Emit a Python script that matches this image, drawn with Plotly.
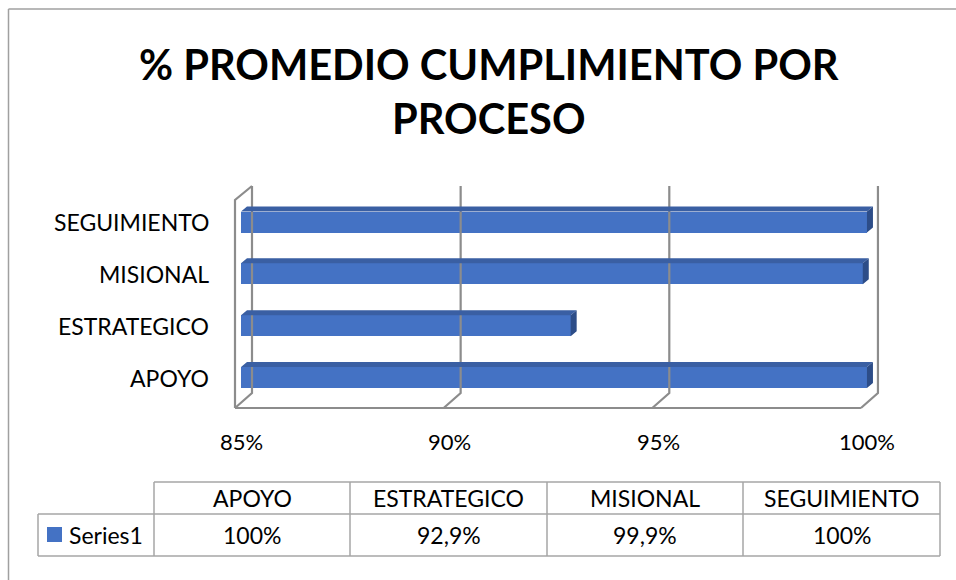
import plotly.graph_objects as go

# ---------------- data ----------------
categories = ["APOYO", "ESTRATEGICO", "MISIONAL", "SEGUIMIENTO"]
values = [100.0, 92.9, 99.9, 100.0]
series_name = "Series1"
x_ticks = [85, 90, 95, 100]
x_tick_labels = ["85%", "90%", "95%", "100%"]
title_text = "% PROMEDIO CUMPLIMIENTO POR<br>PROCESO"

# ---------------- layout constants ----------------
W, H = 956, 580
FONT = "Lato"
X0, PXU = 241.0, 41.73      # px of axis minimum, px per percent
Y0, PYU = 377.5, 51.83      # px of first category, px per category step
XMIN = x_ticks[0]
BAR_W = 21 / PYU
DDX, DDY = 6 / PXU, 5 / PYU          # depth of bars
BACK_DX = 11 / PXU                   # back wall offset from bar start
FRONT_DX = -6 / PXU                  # front floor offset
Y_BACK_TOP = (Y0 - 186) / PYU
Y_BACK_BOT = (Y0 - 393) / PYU
Y_FRONT_BOT = (Y0 - 408) / PYU
Y_FRONT_TOP = (Y0 - 200) / PYU
GRID = "#8c8c8c"
BLUE = "#4472C4"
TOP_C = "#3a5fa3"
SIDE_C = "#2d4d88"
TABLE_LINE = "#a6a6a6"

xr = [XMIN - X0 / PXU, XMIN + (W - X0) / PXU]
yr = [(Y0 - H) / PYU, Y0 / PYU]

def px(x):
    return x / W

def py(y):
    return 1 - y / H

idx = list(range(len(categories)))

fig = go.Figure()

# grid / walls
gx, gy = [], []
for t in x_ticks:
    gx += [t + BACK_DX, t + BACK_DX, t + FRONT_DX, None]
    gy += [Y_BACK_TOP, Y_BACK_BOT, Y_FRONT_BOT, None]
gx += [XMIN + FRONT_DX, XMIN + FRONT_DX, XMIN + BACK_DX, None]
gy += [Y_FRONT_BOT, Y_FRONT_TOP, Y_BACK_TOP, None]
gx += [XMIN + FRONT_DX, x_ticks[-1] + FRONT_DX]
gy += [Y_FRONT_BOT, Y_FRONT_BOT]
fig.add_trace(go.Scatter(x=gx, y=gy, mode="lines", line=dict(color=GRID, width=2.2),
                         hoverinfo="skip", showlegend=False))

# front faces of bars
fig.add_trace(go.Bar(y=idx, x=[v - XMIN for v in values], base=XMIN, orientation="h",
                     width=BAR_W, marker=dict(color=BLUE, line=dict(width=0)),
                     name=series_name, showlegend=False))

# top and side faces
tx, ty, sx, sy = [], [], [], []
for i, v in zip(idx, values):
    top = i + BAR_W / 2
    bot = i - BAR_W / 2
    tx += [XMIN, v, v + DDX, XMIN + DDX, XMIN, None]
    ty += [top, top, top + DDY, top + DDY, top, None]
    sx += [v, v, v + DDX, v + DDX, v, None]
    sy += [bot, top, top + DDY, bot + DDY, bot, None]
fig.add_trace(go.Scatter(x=tx, y=ty, mode="lines", fill="toself", fillcolor=TOP_C,
                         line=dict(width=0, color=TOP_C), hoverinfo="skip", showlegend=False))
fig.add_trace(go.Scatter(x=sx, y=sy, mode="lines", fill="toself", fillcolor=SIDE_C,
                         line=dict(width=0, color=SIDE_C), hoverinfo="skip", showlegend=False))

ann = []
# title
ann.append(dict(text="<b>" + title_text + "</b>", x=px(489), y=py(91), xref="paper", yref="paper",
                showarrow=False, xanchor="center", yanchor="middle",
                font=dict(family=FONT, size=41.6, color="#000000")))
# category labels
for i, c in zip(idx, categories):
    ann.append(dict(text=c, x=px(211), y=i, xref="paper", yref="y", showarrow=False,
                    xanchor="right", yanchor="middle", font=dict(family=FONT, size=23, color="#000")))
# x tick labels
for t, lab in zip(x_ticks, x_tick_labels):
    ann.append(dict(text=lab, x=t, y=py(441), xref="x", yref="paper", showarrow=False,
                    xanchor="center", yanchor="middle", font=dict(family=FONT, size=22, color="#000")))

# data table
col_edges = [38, 154, 350, 547, 743, 940]
row_top, row_mid, row_bot = 482, 514, 556
shapes = []
def line(x0, y0, x1, y1, color=TABLE_LINE, width=1.5):
    shapes.append(dict(type="line", xref="paper", yref="paper", x0=px(x0), y0=py(y0),
                       x1=px(x1), y1=py(y1), line=dict(color=color, width=width)))
line(col_edges[1], row_top, col_edges[-1], row_top)
line(col_edges[0], row_mid, col_edges[-1], row_mid)
line(col_edges[0], row_bot, col_edges[-1], row_bot)
line(col_edges[0], row_mid, col_edges[0], row_bot)
for e in col_edges[1:]:
    line(e, row_top, e, row_bot)

def fmt(v):
    return (f"{v:.0f}%" if abs(v - round(v)) < 1e-9 else f"{v:.1f}%".replace(".", ","))

for k, (c, v) in enumerate(zip(categories, values)):
    cx = (col_edges[k + 1] + col_edges[k + 2]) / 2
    ann.append(dict(text=c, x=px(cx), y=py((row_top + row_mid) / 2), xref="paper", yref="paper",
                    showarrow=False, xanchor="center", yanchor="middle",
                    font=dict(family=FONT, size=23, color="#000")))
    ann.append(dict(text=fmt(v), x=px(cx), y=py((row_mid + row_bot) / 2), xref="paper", yref="paper",
                    showarrow=False, xanchor="center", yanchor="middle",
                    font=dict(family=FONT, size=23, color="#000")))
# legend key
shapes.append(dict(type="rect", xref="paper", yref="paper", x0=px(47), x1=px(62), y0=py(527), y1=py(542),
                   fillcolor=BLUE, line=dict(width=0)))
ann.append(dict(text=series_name, x=px(67), y=py(535), xref="paper", yref="paper", showarrow=False,
                xanchor="left", yanchor="middle", font=dict(family=FONT, size=23, color="#000")))

# chart frame
shapes.append(dict(type="line", xref="paper", yref="paper", x0=px(8.5), y0=py(9), x1=px(8.5), y1=0,
                   line=dict(color="#a0a0a0", width=1.5)))
shapes.append(dict(type="line", xref="paper", yref="paper", x0=px(8.5), y0=py(9), x1=1, y1=py(9),
                   line=dict(color="#a0a0a0", width=1.5)))

fig.update_layout(
    width=W, height=H, margin=dict(l=0, r=0, t=0, b=0),
    paper_bgcolor="white", plot_bgcolor="white",
    xaxis=dict(range=xr, visible=False, domain=[0, 1], fixedrange=True),
    yaxis=dict(range=yr, visible=False, domain=[0, 1], fixedrange=True),
    annotations=ann, shapes=shapes, showlegend=False, bargap=0,
)
fig.write_html("out.html")
